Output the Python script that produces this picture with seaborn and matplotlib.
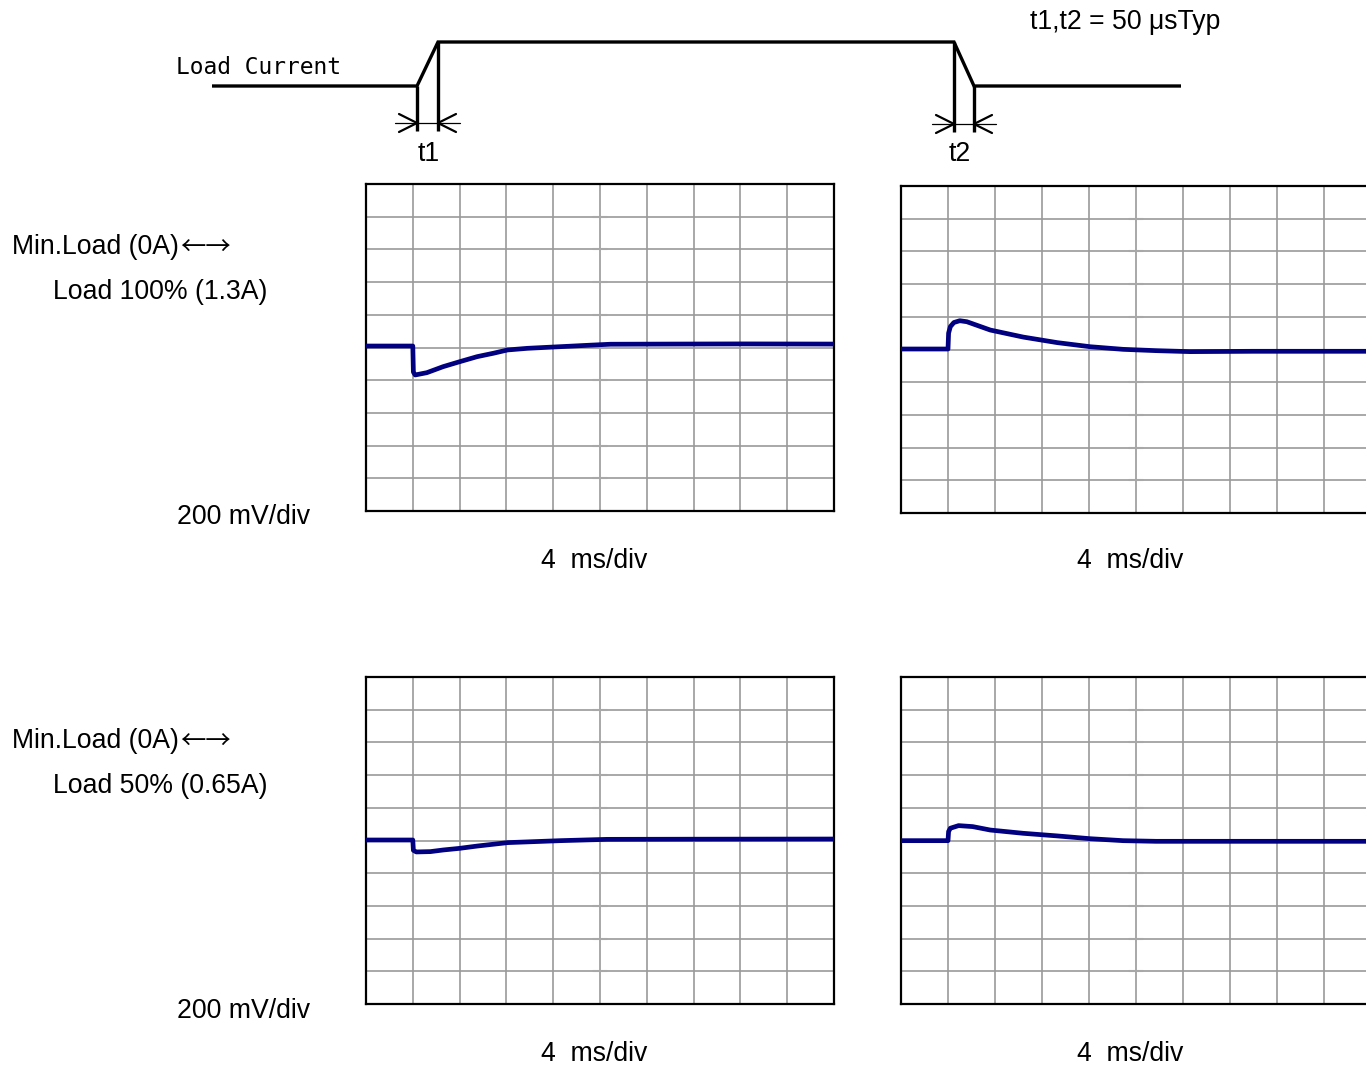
import numpy as np
import matplotlib
matplotlib.use("Agg")
import matplotlib.pyplot as plt
import seaborn as sns

sns.set_style("white")
plt.rcParams['font.family'] = ['Liberation Sans', 'DejaVu Sans']
plt.rcParams['text.color'] = 'black'

# ---------------- data (time in ms, voltage deviation in mV) ----------------
tl_t = [0, 4.0, 4.05, 4.2, 5.2, 6.6, 8.0, 9.5, 10.9, 12.1, 13.8, 16.6, 19.4, 20.9, 26, 32, 40]
tl_v = [9, 9, -150, -168, -154, -117, -87, -56, -35, -15, -5, 5, 15, 20, 21, 22, 21]

tr_t = [0, 4.0, 4.05, 4.2, 4.5, 5.0, 5.6, 7.6, 10.4, 13.3, 16.1, 18.9, 21.7, 24.6, 30, 40]
tr_v = [3, 3, 100, 140, 165, 176, 170, 119, 76, 42, 17, 1, -7, -13, -11, -11]

bl_t = [0, 4.0, 4.05, 4.3, 5.5, 6.6, 8.0, 9.5, 12.1, 16.6, 20.6, 28, 40]
bl_v = [3, 3, -60, -70, -68, -58, -48, -34, -13, -1, 7, 8, 9]

br_t = [0, 4.0, 4.05, 4.2, 4.9, 6.1, 7.6, 10.4, 13.3, 16.1, 18.9, 21.7, 24.6, 32, 40]
br_v = [-1, -1, 55, 75, 91, 85, 64, 44, 28, 11, -1, -5, -5, -5, -5]

# load current schematic (pixel units of the sketch)
load_x = [212, 417, 438, 954, 974, 1181]
load_y = [86, 86, 42, 42, 86, 86]

time_per_div = 4      # ms
volt_per_div = 200    # mV

row_labels = [("Min.Load (0A)", "Load 100% (1.3A)"),
              ("Min.Load (0A)", "Load 50% (0.65A)")]
arrow_label = "\u2190\u2192"
vdiv_label = "200 mV/div"
tdiv_label = "4  ms/div"
timing_label = "t1,t2 = 50 \u03bcsTyp"

W, H = 1366, 1069
fig = plt.figure(figsize=(W / 100, H / 100), dpi=100)

TRACE = '#000080'
GRID = '#9a9a9a'


def panel(rect, t, v):
    ax = fig.add_axes(rect)
    sns.lineplot(x=t, y=v, ax=ax, color=TRACE, linewidth=3.4, sort=False,
                 estimator=None, zorder=5)
    ax.set_xlim(0, 10 * time_per_div)
    ax.set_ylim(-5 * volt_per_div, 5 * volt_per_div)
    ax.set_xticks(np.arange(0, 10 * time_per_div + 1, time_per_div))
    ax.set_yticks(np.arange(-5 * volt_per_div, 5 * volt_per_div + 1, volt_per_div))
    ax.grid(True, color=GRID, linewidth=1.2)
    ax.set_axisbelow(True)
    ax.tick_params(length=0, labelbottom=False, labelleft=False)
    ax.set_xlabel("")
    ax.set_ylabel("")
    for s in ax.spines.values():
        s.set_visible(True)
        s.set_color('black')
        s.set_linewidth(1.6)
    # subtle center-axis marks
    cx = 5 * time_per_div
    for yy in np.arange(-4 * volt_per_div, 4 * volt_per_div + 1, volt_per_div):
        ax.plot([cx - 0.6, cx + 0.6], [yy, yy], color='#a8a8a8', lw=1.5, zorder=1)
    return ax


def rect_px(x0, y0, x1, y1):
    return [x0 / W, 1 - y1 / H, (x1 - x0) / W, (y1 - y0) / H]


panel(rect_px(366, 184, 834, 511), tl_t, tl_v)
panel(rect_px(901, 186, 1371, 513), tr_t, tr_v)
panel(rect_px(366, 677, 834, 1004), bl_t, bl_v)
panel(rect_px(901, 677, 1371, 1004), br_t, br_v)

# overlay axes in pixel coordinates for schematic and labels
ov = fig.add_axes([0, 0, 1, 1], zorder=10)
ov.set_xlim(0, W)
ov.set_ylim(H, 0)
ov.axis('off')
ov.patch.set_alpha(0)

ov.plot(load_x, load_y, color='black', lw=2.4, solid_capstyle='butt',
        solid_joinstyle='miter')


def dim_marks(xa, ya, xb, yb, ybar):
    ov.plot([xa, xa], [ya, ybar + 8], color='black', lw=2.4, solid_capstyle='butt')
    ov.plot([xb, xb], [yb, ybar + 8], color='black', lw=2.4, solid_capstyle='butt')
    ov.plot([xa - 22, xb + 22], [ybar, ybar], color='black', lw=0.9)
    ov.plot([xa - 18, xa, xa - 18], [ybar - 9, ybar, ybar + 9], color='black', lw=1.6)
    ov.plot([xb + 18, xb, xb + 18], [ybar - 9, ybar, ybar + 9], color='black', lw=1.6)


dim_marks(load_x[1], load_y[1], load_x[2], load_y[2], 123)
dim_marks(load_x[3], load_y[3], load_x[4], load_y[4], 124)

FS = 19.2
ov.text(176, 67, "Load Current", family='DejaVu Sans Mono', fontsize=16.5,
        ha='left', va='center')
ov.text(429, 154, "t1", fontsize=FS, ha='center', va='center')
ov.text(960, 154, "t2", fontsize=FS, ha='center', va='center')
ov.text(1125, 22, timing_label, fontsize=FS, ha='center', va='center')

for (l1, l2), ytop, yv, yt in [(row_labels[0], 247, 517, 561),
                               (row_labels[1], 741, 1011, 1054)]:
    ov.text(12, ytop, l1, fontsize=FS, ha='left', va='center')
    ov.text(180, ytop + 1, arrow_label, fontsize=FS * 0.95,
            family=['Noto Sans CJK JP', 'DejaVu Sans'], ha='left', va='center')
    ov.text(53, ytop + 45, l2, fontsize=FS, ha='left', va='center')
    ov.text(310, yv, vdiv_label, fontsize=FS, ha='right', va='center')
    ov.text(594, yt, tdiv_label, fontsize=FS, ha='center', va='center')
    ov.text(1130, yt, tdiv_label, fontsize=FS, ha='center', va='center')

fig.savefig("out.png", dpi=100)
